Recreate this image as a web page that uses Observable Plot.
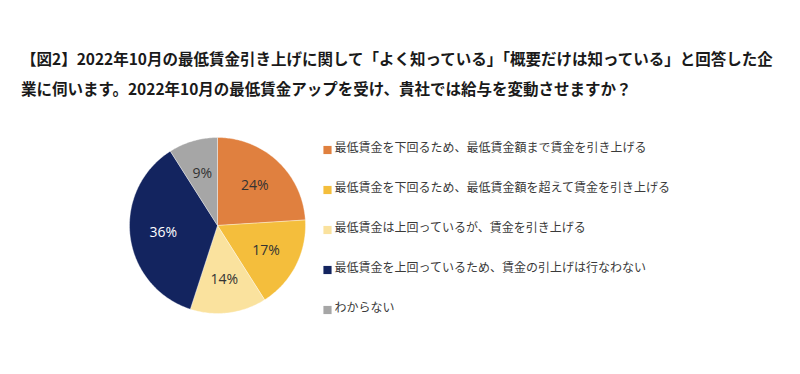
<!DOCTYPE html>
<html>
<head>
<meta charset="utf-8">
<script src="https://cdn.jsdelivr.net/npm/d3@7"></script>
<script src="https://cdn.jsdelivr.net/npm/@observablehq/plot@0.6"></script>
<style>
  html, body { margin: 0; padding: 0; background: #fff; }
  #title {
    box-sizing: border-box;
    height: 110px;
    padding: 43px 0 0 21px;
    font-family: "Noto Sans CJK JP", sans-serif;
    font-weight: 700;
    font-size: 15.5px;
    line-height: 30px;
    color: #1a1a1a;
    white-space: nowrap;
  }
</style>
</head>
<body>
<div id="title">【図2】2022年10月の最低賃金引き上げに関して「よく知っている」「概要だけは知っている」と回答した企<br>業に伺います。2022年10月の最低賃金アップを受け、貴社では給与を変動させますか？</div>
<div id="chart"></div>
<script>
const categories = [
  "最低賃金を下回るため、最低賃金額まで賃金を引き上げる",
  "最低賃金を下回るため、最低賃金額を超えて賃金を引き上げる",
  "最低賃金は上回っているが、賃金を引き上げる",
  "最低賃金を上回っているため、賃金の引上げは行なわない",
  "わからない"
];
const values = [24, 17, 14, 36, 9];
const sliceColors = ["#E0803F", "#F4BE3C", "#FAE29E", "#13245F", "#A6A6A6"];
const labelColors = ["#333333", "#333333", "#333333", "#ffffff", "#333333"];

// layout constants
const W = 800, H = 264;
const cx = 217, cy = 115, R = 88, labelR = 0.62 * R;
const legendX = 327, legendTextX = 334, legendY0 = 38, legendStep = 40;

const total = d3.sum(values);
const piePts = [];
const labels = [];
let cum = 0;
values.forEach((v, i) => {
  const a0 = cum / total * 2 * Math.PI;
  cum += v;
  const a1 = cum / total * 2 * Math.PI;
  const cat = categories[i];
  piePts.push({cat, x: cx, y: cy});
  const n = Math.max(2, Math.ceil((a1 - a0) / (Math.PI / 180)));
  for (let k = 0; k <= n; k++) {
    const a = a0 + (a1 - a0) * k / n;
    piePts.push({cat, x: cx + R * Math.sin(a), y: cy - R * Math.cos(a)});
  }
  piePts.push({cat, x: cx, y: cy});
  const am = (a0 + a1) / 2;
  labels.push({cat, text: v + "%", x: cx + labelR * Math.sin(am), y: cy - labelR * Math.cos(am), color: labelColors[i]});
});

const legend = categories.map((c, i) => ({cat: c, y: legendY0 + i * legendStep}));

const labelMarks = [...new Set(labelColors)].map(col =>
  Plot.text(labels.filter(d => d.color === col), {
    x: "x", y: "y", text: "text", fill: col,
    fontSize: 14, fontFamily: "'Open Sans', 'Liberation Sans', sans-serif"
  })
);

const chart = Plot.plot({
  width: W,
  height: H,
  margin: 0,
  x: {domain: [0, W], range: [0, W], axis: null},
  y: {domain: [0, H], range: [0, H], axis: null},
  color: {domain: categories, range: sliceColors},
  style: {background: "#fff"},
  marks: [
    Plot.line(piePts, {x: "x", y: "y", z: "cat", fill: "cat", stroke: "#ffffff", strokeWidth: 0.6, strokeOpacity: 0.6}),
    ...labelMarks,
    Plot.dot(legend, {x: () => legendX, y: d => d.y + 1.5, symbol: "square", r: 4.6, fill: "cat", stroke: null}),
    Plot.text(legend, {
      x: () => legendTextX, y: "y", text: "cat", textAnchor: "start",
      fill: "#3a3a3a", fontSize: 12, fontFamily: "'Noto Sans CJK JP', sans-serif"
    })
  ]
});
document.getElementById("chart").appendChild(chart);
</script>
</body>
</html>
